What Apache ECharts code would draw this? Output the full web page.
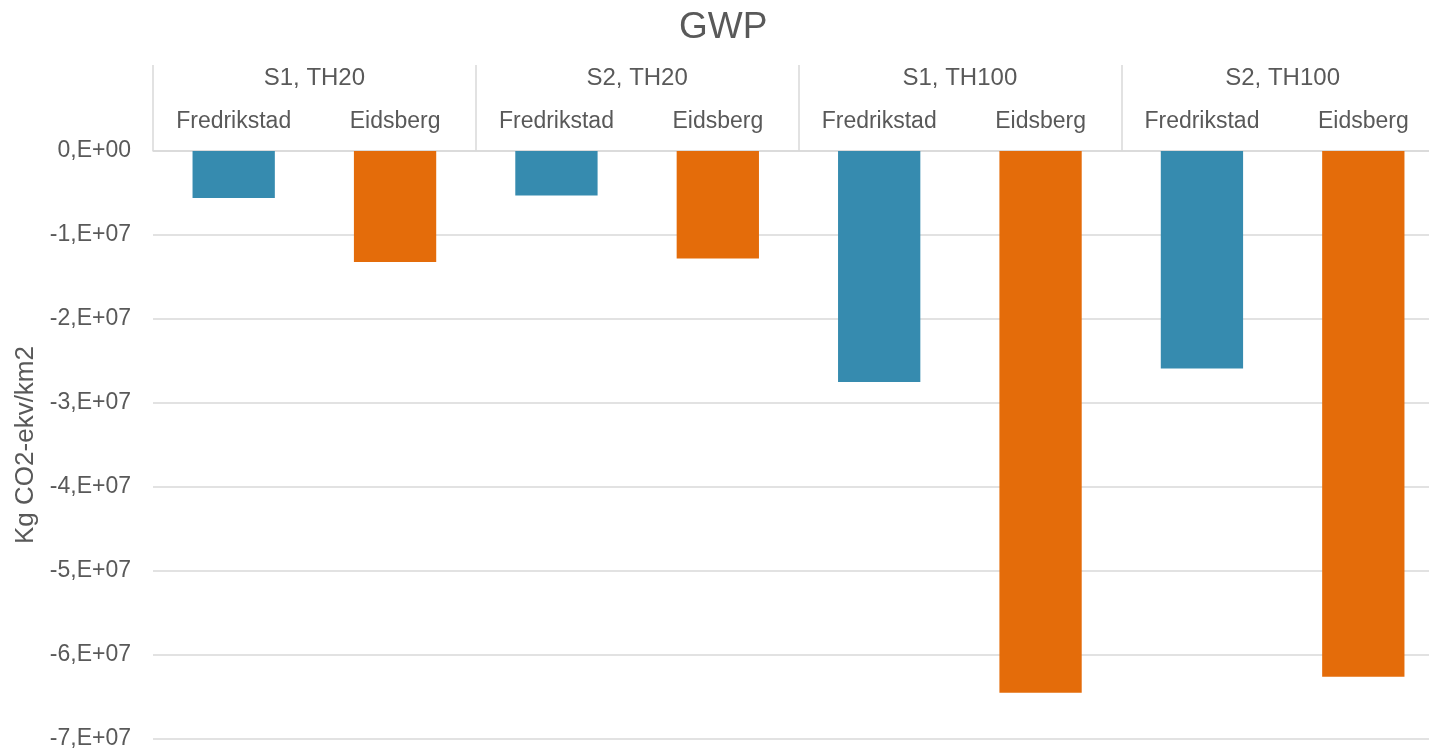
<!DOCTYPE html>
<html>
<head>
<meta charset="utf-8">
<script src="https://cdn.jsdelivr.net/npm/echarts@6/dist/echarts.min.js"></script>
<style>
html,body{margin:0;padding:0;background:#fff;overflow:hidden;}
#chart{width:1429px;height:750px;}
</style>
</head>
<body>
<div id="chart"></div>
<script>
const groups = ['S1, TH20', 'S2, TH20', 'S1, TH100', 'S2, TH100'];
const sites = ['Fredrikstad', 'Eidsberg'];
const fredrikstad = [-5.6e6, -5.3e6, -2.75e7, -2.59e7];
const eidsberg = [-1.32e7, -1.28e7, -6.45e7, -6.26e7];
const yTickLabels = ['0,E+00', '-1,E+07', '-2,E+07', '-3,E+07', '-4,E+07', '-5,E+07', '-6,E+07', '-7,E+07'];

const siteColors = ['#368BAF', '#E46C0A'];
const FONT = '"Liberation Sans", Arial, sans-serif';
const TXT = '#595959';
const GRID = '#d9d9d9';

const innerCats = [];
const barData = [];
groups.forEach((g, i) => {
  innerCats.push(sites[0], sites[1]);
  barData.push({ value: fredrikstad[i], itemStyle: { color: siteColors[0] } });
  barData.push({ value: eidsberg[i], itemStyle: { color: siteColors[1] } });
});

const chart = echarts.init(document.getElementById('chart'), null, { renderer: 'canvas' });
chart.setOption({
  animation: false,
  backgroundColor: '#fff',
  title: {
    text: 'GWP',
    left: 674,
    top: 4,
    textStyle: { fontFamily: FONT, fontSize: 37, fontWeight: 'normal', color: TXT }
  },
  grid: { left: 153, width: 1291, top: 151, height: 588, containLabel: false, outerBoundsMode: 'none' },
  xAxis: [
    {
      type: 'category',
      position: 'top',
      data: innerCats,
      axisLine: { show: true, lineStyle: { color: GRID, width: 1.5 } },
      axisTick: { show: false },
      axisLabel: { interval: 0, margin: 18, fontFamily: FONT, fontSize: 23, color: TXT }
    },
    {
      type: 'category',
      position: 'top',
      data: groups,
      axisLine: { show: false },
      axisTick: { show: true, interval: 0, length: 86, lineStyle: { color: GRID, width: 1.5 } },
      axisLabel: { interval: 0, margin: 61, fontFamily: FONT, fontSize: 24, color: TXT }
    }
  ],
  yAxis: {
    type: 'value',
    min: -7e7,
    max: 0,
    interval: 1e7,
    name: 'Kg CO2-ekv/km2',
    nameLocation: 'middle',
    nameGap: 114,
    nameTextStyle: { fontFamily: FONT, fontSize: 26, color: TXT },
    axisLine: { show: false },
    axisTick: { show: false },
    splitLine: { show: true, lineStyle: { color: GRID, width: 1.5 } },
    axisLabel: {
      margin: 22,
      fontFamily: FONT,
      fontSize: 23,
      color: TXT,
      formatter: function (v) {
        const idx = Math.round(-v / 1e7);
        return yTickLabels[idx];
      }
    }
  },
  series: [
    {
      type: 'bar',
      xAxisIndex: 0,
      data: barData,
      barWidth: '51%'
    }
  ]
});
</script>
</body>
</html>
